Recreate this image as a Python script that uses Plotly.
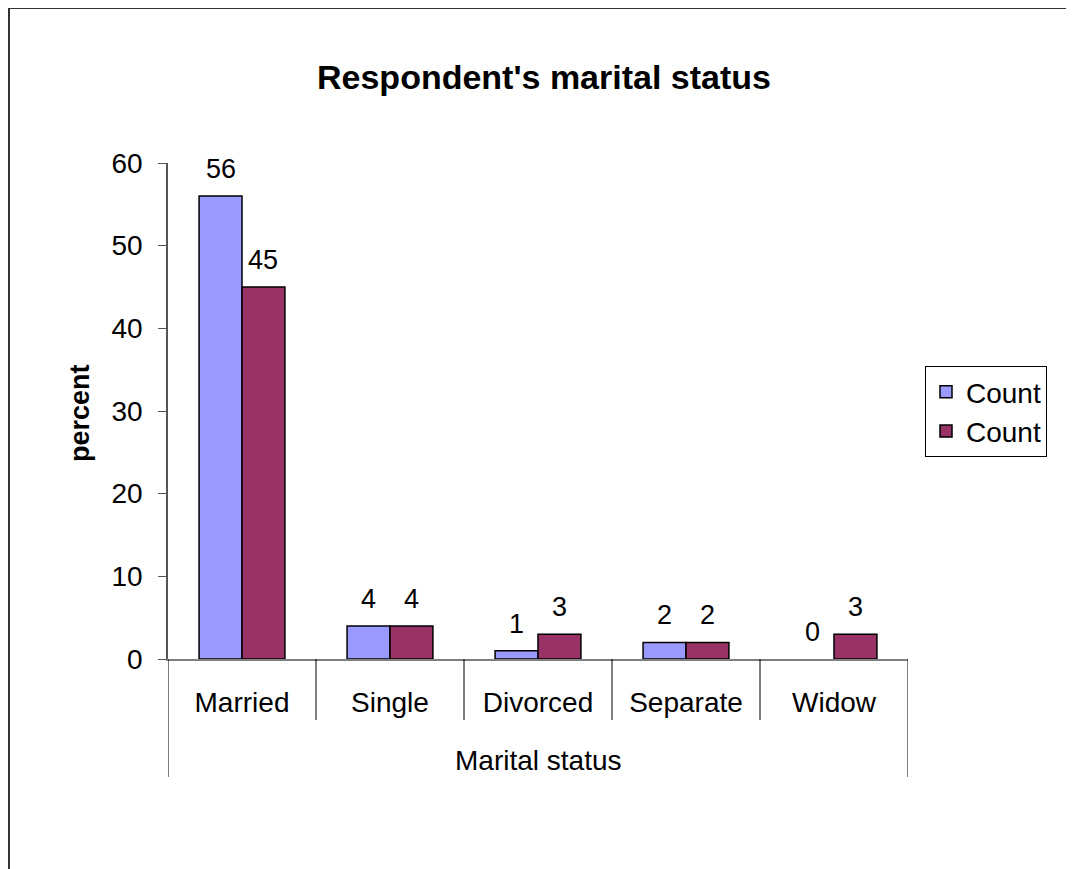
"""Respondent's marital status - grouped bar chart."""

import plotly.graph_objects as go

categories = ["Married", "Single", "Divorced", "Separate", "Widow"]
count_a = [56, 4, 1, 2, 0]
count_b = [45, 4, 3, 2, 3]
y_ticks = [0, 10, 20, 30, 40, 50, 60]

W, H = 1074, 869
OFF = 8  # page body margin
L, R, T, B = 168 - OFF, 908 - OFF, 163 - OFF, 659 - OFF  # plot area
BARGAP = 0.42
HALF = (1 - BARGAP) / 4  # offset of each bar centre from the category centre


def px_x(x):
    return (x - OFF - L) / (R - L)


def px_y(y):
    return (B - (y - OFF)) / (B - T)


fig = go.Figure()
annotations = []
for k, (vals, color) in enumerate([(count_a, "#9999FF"), (count_b, "#993366")]):
    fig.add_trace(go.Bar(
        x=categories,
        y=vals,
        name="Count",
        legendgroup=f"g{k}",
        marker=dict(
            color=color,
            line=dict(color="black", width=[1.5 if v else 0 for v in vals]),
        ),
    ))
    # value labels above the bars
    for i, v in enumerate(vals):
        annotations.append(dict(
            text=str(v), xref="x", yref="y",
            x=i + (HALF if k else -HALF), y=v,
            xanchor="center", yanchor="bottom", yshift=10,
            showarrow=False, font=dict(size=27),
        ))

shapes = []
# category separators below the axis
for i in range(len(categories) + 1):
    outer = i in (0, len(categories))
    shapes.append(dict(
        type="line", xref="x", yref="paper",
        x0=i - 0.5, x1=i - 0.5,
        y0=0, y1=px_y(777 if outer else 720),
        line=dict(color="black", width=1),
    ))
# outer chart border
shapes.append(dict(
    type="rect", xref="paper", yref="paper",
    x0=px_x(9), x1=px_x(1200), y0=px_y(1000), y1=px_y(8),
    line=dict(color="#333333", width=2),
))

annotations += [
    dict(text="<b>Respondent's marital status</b>", xref="paper", yref="paper",
         x=px_x(544), y=px_y(77), xanchor="center", yanchor="middle",
         showarrow=False, font=dict(size=34)),
    dict(text="<b>percent</b>", xref="paper", yref="paper",
         x=px_x(80), y=px_y(413), xanchor="center", yanchor="middle",
         showarrow=False, textangle=-90, font=dict(size=27)),
    dict(text="Marital status", xref="paper", yref="paper",
         x=0.5, y=px_y(760), xanchor="center", yanchor="middle",
         showarrow=False, font=dict(size=28)),
]

fig.update_layout(
    width=W - OFF, height=H - OFF,
    margin=dict(l=L, r=W - OFF - R, t=T, b=H - OFF - B, pad=0),
    plot_bgcolor="white",
    paper_bgcolor="white",
    font=dict(family="Liberation Sans, Arial, sans-serif", size=28, color="black"),
    bargap=BARGAP,
    bargroupgap=0,
    showlegend=True,
    legend=dict(
        x=px_x(925), y=px_y(366), xanchor="left", yanchor="top",
        bordercolor="black", borderwidth=1,
        font=dict(size=28),
        traceorder="normal",
    ),
    shapes=shapes,
    annotations=annotations,
)
fig.update_xaxes(
    type="category",
    range=[-0.5, len(categories) - 0.5],
    showline=True, linecolor="#808080", linewidth=1.5,
    showgrid=False, ticks="",
    ticklabelstandoff=18,
    tickfont=dict(size=28),
)
fig.update_yaxes(
    range=[0, 60],
    tickvals=y_ticks,
    showline=True, linecolor="#555555", linewidth=1.5,
    showgrid=False, zeroline=False,
    ticks="outside", ticklen=8, tickcolor="#555555",
    ticklabelstandoff=10,
    tickfont=dict(size=28),
)

fig.write_html("out.html")
